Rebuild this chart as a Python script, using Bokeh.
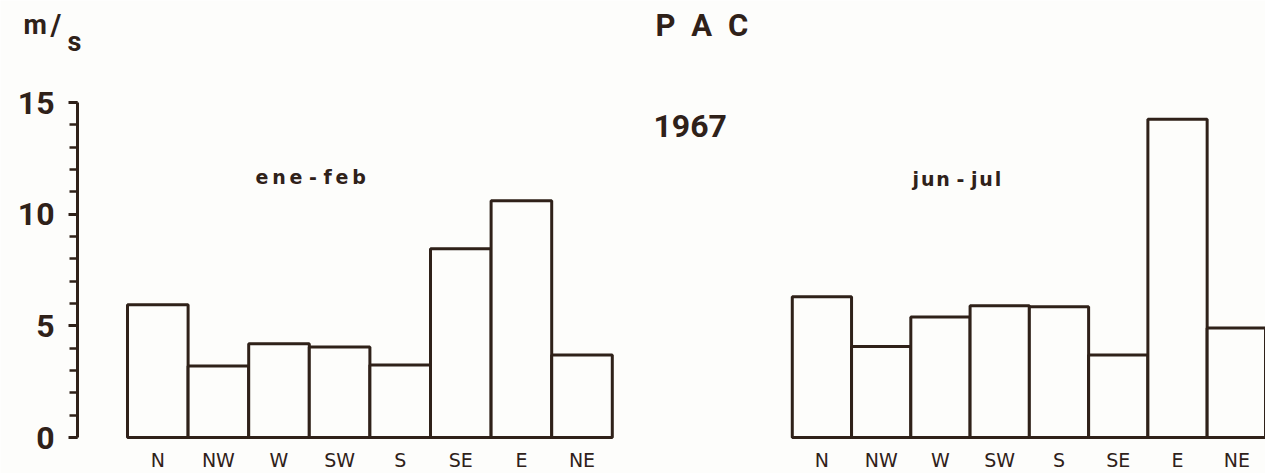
from bokeh.plotting import figure
from bokeh.models import Range1d, FixedTicker, Label
from bokeh.embed import file_html
from bokeh.resources import INLINE

# ---- data ----
directions = ["N", "NW", "W", "SW", "S", "SE", "E", "NE"]
ene_feb = [5.95, 3.2, 4.2, 4.05, 3.25, 8.45, 10.6, 3.7]
jun_jul = [6.3, 4.08, 5.4, 5.9, 5.85, 3.7, 14.25, 4.9]
y_ticks = [0, 5, 10, 15]
y_minor = list(range(0, 16))
station = "P\u2002A\u2002C"
year = "1967"
period_1 = "e\u2009n\u2009e - f\u2009e\u2009b"
period_2 = "j\u200au\u200an - j\u200au\u200al"

# ---- style / layout ----
INK = "#2f2119"
BG = "#fdfdfb"
W, H = 1265, 473
PX_X = 60.6          # pixels per bar slot
PX_Y = 22.33         # pixels per m/s
BASE_X = 127         # page x of the first bar's left edge
BASE_Y = 437         # page y of the zero line
AXIS_X = 77          # page x of the y axis line

x_start = -BASE_X / PX_X
y_start = -(H - BASE_Y) / PX_Y
p = figure(width=W, height=H, output_backend="svg", toolbar_location=None,
           x_range=Range1d(x_start, x_start + W / PX_X),
           y_range=Range1d(y_start, y_start + H / PX_Y),
           min_border_left=0, min_border_right=0, min_border_top=0,
           min_border_bottom=0)
p.background_fill_color = BG
p.border_fill_color = BG
p.outline_line_color = None
p.grid.visible = False

n = len(directions)
left_x = [round(i + 0.5, 4) for i in range(n)]
R_OFF, R_W = 10.97, 0.978
right_x = [round(R_OFF + (i + 0.5) * R_W, 4) for i in range(n)]

p.vbar(x=left_x, top=ene_feb, bottom=0, width=1.0, fill_color=BG,
       line_color=INK, line_width=3)
p.vbar(x=right_x, top=jun_jul, bottom=0, width=R_W, fill_color=BG,
       line_color=INK, line_width=3)

# y axis, drawn at a fixed position inside the frame
ya = p.yaxis[0]
ya.fixed_location = (AXIS_X - BASE_X) / PX_X
ya.ticker = FixedTicker(ticks=y_ticks, minor_ticks=y_minor)
ya.bounds = (0, 15)
ya.axis_line_color = INK
ya.axis_line_width = 3
ya.major_tick_line_color = INK
ya.major_tick_line_width = 3
ya.major_tick_out = 9
ya.major_tick_in = 0
ya.minor_tick_line_color = INK
ya.minor_tick_line_width = 2.5
ya.minor_tick_out = 8
ya.minor_tick_in = 0
ya.major_label_standoff = 14
ya.major_label_text_font = "Roboto"
ya.major_label_text_font_style = "bold"
ya.major_label_text_font_size = "32px"
ya.major_label_text_color = INK

# x axis (direction labels) at the zero line
xa = p.xaxis[0]
xa.fixed_location = 0
xa.ticker = FixedTicker(ticks=left_x + right_x, minor_ticks=[])
overrides = {}
for xv, d in zip(left_x, directions):
    overrides[xv] = d
for xv, d in zip(right_x, directions):
    overrides[xv] = d
xa.major_label_overrides = overrides
xa.axis_line_color = None
xa.major_tick_line_color = None
xa.minor_tick_line_color = None
xa.major_tick_out = 0
xa.major_label_standoff = 11
xa.major_label_text_font = "DejaVu Sans"
xa.major_label_text_font_size = "19px"
xa.major_label_text_color = INK


def page_label(text, px, py, size, font="Roboto", style="bold"):
    lab = Label(x=(px - BASE_X) / PX_X, y=(BASE_Y - py) / PX_Y, text=text,
                text_font=font, text_font_style=style,
                text_font_size=size, text_color=INK,
                text_baseline="middle", text_align="left")
    p.add_layout(lab)


page_label("m", 23, 24, "27px")
page_label("/", 50, 24, "29px")
page_label("s", 67, 41, "27px")
page_label(station, 655, 25, "31px")
page_label(year, 653, 125, "32px")
page_label(period_1, 255, 176, "19px", font="DejaVu Sans")
page_label(period_2, 912, 178, "19px", font="DejaVu Sans")

open("out.html", "w").write(file_html(p, INLINE))
